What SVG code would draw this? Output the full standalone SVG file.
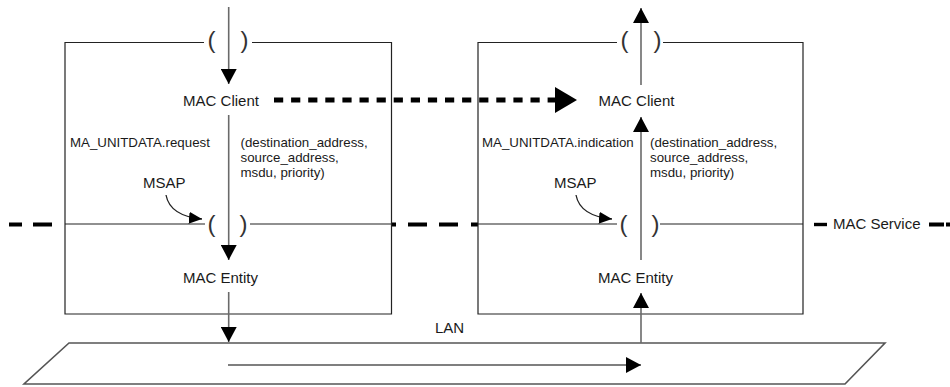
<svg xmlns="http://www.w3.org/2000/svg" width="950" height="387" viewBox="0 0 950 387">
  <defs>
    <style>
      .lbl { font-family: "Liberation Sans", Arial, sans-serif; font-size: 15px; fill: #1a1a1a; }
      .sm { font-family: "Liberation Sans", Arial, sans-serif; font-size: 13.3px; fill: #1a1a1a; }
      .par { font-family: "Liberation Sans", Arial, sans-serif; font-size: 24px; fill: #333; text-anchor: middle; }
      .box { fill: none; stroke: #222; stroke-width: 1.2; }
      .flow { fill: none; stroke: #6a6a6a; stroke-width: 1.6; }
      .lan { fill: none; stroke: #555; stroke-width: 1.6; }
      .dash { fill: #000; }
    </style>
    <marker id="head" markerUnits="userSpaceOnUse" markerWidth="16" markerHeight="16" refX="15" refY="8" orient="auto">
      <path d="M0,0 L15,8 L0,16 z" fill="#000"/>
    </marker>
    <marker id="curvehead" markerUnits="userSpaceOnUse" markerWidth="14" markerHeight="12" refX="13" refY="6" orient="auto">
      <path d="M0,0 L13,6 L0,12 z" fill="#000"/>
    </marker>
  </defs>

  <!-- MAC service boundary (dashed) -->
  <g id="mac-service">
    <rect class="dash" x="9" y="222.5" width="13" height="4"/>
    <rect class="dash" x="33" y="222.5" width="19" height="4"/>
    <rect class="dash" x="392" y="222.5" width="4" height="4"/>
    <rect class="dash" x="408" y="222.5" width="19" height="4"/>
    <rect class="dash" x="439" y="222.5" width="19" height="4"/>
    <rect class="dash" x="471" y="222.5" width="7" height="4"/>
    <rect class="dash" x="814" y="222.8" width="13" height="3.4"/>
    <text class="lbl" x="833" y="229">MAC Service</text>
    <rect class="dash" x="929" y="222.5" width="15" height="4"/>
    <rect class="dash" x="946" y="222.5" width="4" height="4"/>
  </g>

  <!-- Sending station -->
  <g id="station-a">
    <path class="box" d="M204,42.5 H65 V314 H391.5 V42.5 H252"/>
    <path class="box" d="M65,224 H205 M250,224 H391.5"/>
    <text class="par" x="211.5" y="48">(</text>
    <text class="par" x="244.5" y="48">)</text>
    <text class="par" x="211.5" y="232">(</text>
    <text class="par" x="243.5" y="232">)</text>
    <text class="lbl" x="221" y="106" text-anchor="middle">MAC Client</text>
    <text class="lbl" x="220.5" y="283" text-anchor="middle">MAC Entity</text>
    <text class="sm" x="70" y="147">MA_UNITDATA.request</text>
    <text class="sm" x="240.5" y="147">(destination_address,</text>
    <text class="sm" x="240.5" y="162">source_address,</text>
    <text class="sm" x="240.5" y="177">msdu, priority)</text>
    <text class="lbl" x="143" y="188">MSAP</text>
  </g>

  <!-- Receiving station -->
  <g id="station-b">
    <path class="box" d="M617,42.5 H478 V314 H803 V42.5 H663"/>
    <path class="box" d="M478,224 H617 M660,224 H803"/>
    <text class="par" x="624.5" y="48">(</text>
    <text class="par" x="657.5" y="48">)</text>
    <text class="par" x="623.5" y="232">(</text>
    <text class="par" x="655.5" y="232">)</text>
    <text class="lbl" x="636.5" y="106" text-anchor="middle">MAC Client</text>
    <text class="lbl" x="635.5" y="283" text-anchor="middle">MAC Entity</text>
    <text class="sm" x="482" y="147">MA_UNITDATA.indication</text>
    <text class="sm" x="650" y="147">(destination_address,</text>
    <text class="sm" x="650" y="162">source_address,</text>
    <text class="sm" x="650" y="177">msdu, priority)</text>
    <text class="lbl" x="554" y="188">MSAP</text>
  </g>

  <!-- LAN medium -->
  <g id="lan">
    <path class="lan" d="M69,343 H885 L845,384 H24 Z"/>
    <text class="lbl" x="435" y="333">LAN</text>
  </g>

  <!-- Connectors -->
  <g id="connectors">
    <!-- sending side, downward -->
    <line class="flow" x1="228.7" y1="7" x2="228.7" y2="84" marker-end="url(#head)"/>
    <line class="flow" x1="228.7" y1="115" x2="228.7" y2="260" marker-end="url(#head)"/>
    <line class="flow" x1="228.7" y1="292" x2="228.7" y2="342" marker-end="url(#head)"/>
    <!-- along the LAN -->
    <line class="lan" x1="228" y1="365" x2="641" y2="365" marker-end="url(#head)"/>
    <!-- receiving side, upward -->
    <line class="flow" x1="641" y1="343" x2="641" y2="293" marker-end="url(#head)"/>
    <line class="flow" x1="641" y1="260" x2="641" y2="117" marker-end="url(#head)"/>
    <line class="flow" x1="641" y1="85" x2="641" y2="8" marker-end="url(#head)"/>
    <!-- peer-to-peer virtual path -->
    <line x1="274" y1="100" x2="556" y2="100" stroke="#000" stroke-width="5" stroke-dasharray="9.2 7.9"/>
    <polygon points="555,87 577,100 555,113" fill="#000"/>
    <!-- MSAP pointers -->
    <path d="M166,195 Q170,216 202,219" fill="none" stroke="#222" stroke-width="1.3" marker-end="url(#curvehead)"/>
    <path d="M576,195 Q580,216 612,219" fill="none" stroke="#222" stroke-width="1.3" marker-end="url(#curvehead)"/>
  </g>
</svg>
